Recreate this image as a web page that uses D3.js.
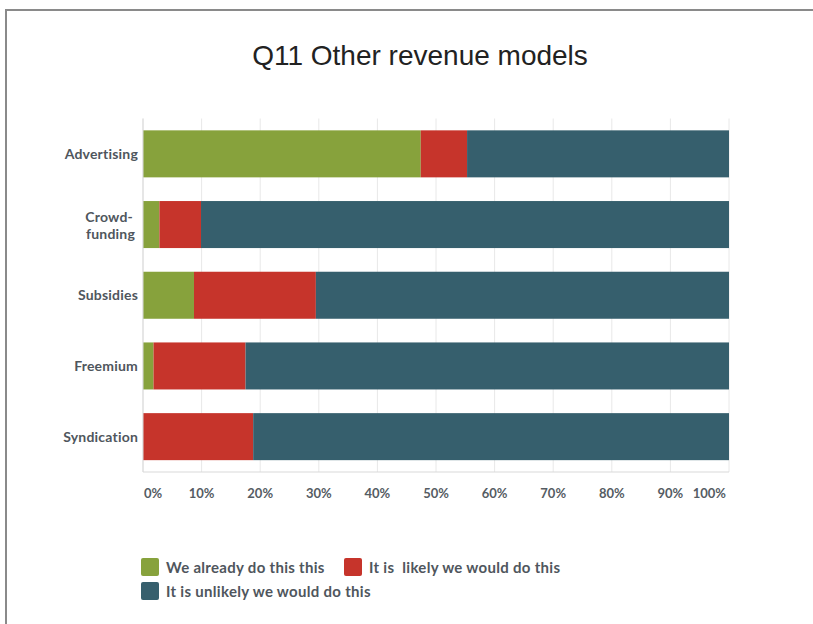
<!DOCTYPE html>
<html>
<head>
<meta charset="utf-8">
<script src="https://d3js.org/d3.v7.min.js"></script>
<style>
  body { margin: 0; background: #fff; }
  svg { display: block; }
  .cat, .tick-lbl, .legend text { font-family: Lato, "Open Sans", sans-serif; font-weight: bold; }
</style>
</head>
<body>
<script>
var categories = ["Advertising", "Crowd-funding", "Subsidies", "Freemium", "Syndication"];
var seriesNames = ["We already do this this", "It is  likely we would do this", "It is unlikely we would do this"];
var already  = [47.4, 2.8, 8.7, 1.8, 0];
var likely   = [7.9, 7.1, 20.8, 15.7, 18.8];
var unlikely = [44.7, 90.1, 70.5, 82.5, 81.2];
var tickValues = [0, 10, 20, 30, 40, 50, 60, 70, 80, 90, 100];
var colors = ["#87a23c", "#c6342b", "#365f6d"];

var W = 813, H = 624;
var margin = {top: 118.5, left: 143, right: 84, bottom: 152};
var width = W - margin.left - margin.right,
    height = H - margin.top - margin.bottom;

var svg = d3.select("body").append("svg")
    .attr("width", W).attr("height", H);

// frame
svg.append("path")
    .attr("d", "M6,624 L6,10 L813,10")
    .attr("fill", "none").attr("stroke", "#8a8a8a").attr("stroke-width", 2);

svg.append("text")
    .attr("x", 420).attr("y", 65)
    .attr("text-anchor", "middle")
    .style("font-family", "'Liberation Sans', Arial, sans-serif")
    .style("font-size", "28px")
    .attr("fill", "#222")
    .text("Q11 Other revenue models");

var g = svg.append("g").attr("transform", "translate(" + margin.left + "," + margin.top + ")");

var x = d3.scaleLinear().domain([0, 100]).range([0, width]);
var y = d3.scaleBand().domain(categories).range([0, height])
    .paddingInner(0.335).paddingOuter(0.1675);

// gridlines
g.selectAll(".grid").data(tickValues).enter().append("line")
    .attr("x1", d => x(d)).attr("x2", d => x(d))
    .attr("y1", 0).attr("y2", height)
    .attr("stroke", "#e8e8e8").attr("stroke-width", 1);

var rows = categories.map(function(c, i) {
  return {cat: c, already: already[i], likely: likely[i], unlikely: unlikely[i]};
});
var stack = d3.stack().keys(["already", "likely", "unlikely"])(rows);

g.selectAll(".series").data(stack).enter().append("g")
    .attr("fill", (d, i) => colors[i])
  .selectAll("rect").data(d => d).enter().append("rect")
    .attr("x", d => x(d[0]))
    .attr("width", d => x(d[1]) - x(d[0]))
    .attr("y", d => y(d.data.cat))
    .attr("height", y.bandwidth());

// axis lines
g.append("line").attr("x1", 0).attr("x2", width).attr("y1", height).attr("y2", height)
    .attr("stroke", "#d9d9d9");
g.append("line").attr("x1", 0).attr("x2", 0).attr("y1", 0).attr("y2", height)
    .attr("stroke", "#d9d9d9");

// x tick labels
g.selectAll(".tick-lbl").data(tickValues).enter().append("text")
    .attr("class", "tick-lbl")
    .attr("x", d => d === 0 ? x(d) + 1 : d === 100 ? x(d) - 3 : x(d))
    .attr("y", height + 26)
    .attr("text-anchor", d => d === 0 ? "start" : d === 100 ? "end" : "middle")
    .style("font-size", "13px")
    .attr("fill", "#555c63")
    .text(d => d + "%");

// category labels
g.selectAll(".cat").data(categories).enter().append("text")
    .attr("class", "cat")
    .attr("text-anchor", "end")
    .attr("fill", "#4f565d")
    .style("font-size", "14px")
    .style("letter-spacing", "0.2px")
    .each(function(d) {
      var t = d3.select(this);
      var cy = y(d) + y.bandwidth() / 2;
      if (d === "Crowd-funding") {
        t.append("tspan").attr("x", -10).attr("y", cy - 3).text("Crowd-");
        t.append("tspan").attr("x", -8).attr("y", cy + 14).text("funding");
      } else {
        t.attr("x", -5).attr("y", cy + 5).text(d);
      }
    });

// legend
var legendPos = [[141, 558], [344, 558], [141, 582]];
var legend = svg.selectAll(".legend").data(seriesNames).enter().append("g")
    .attr("class", "legend")
    .attr("transform", (d, i) => "translate(" + legendPos[i][0] + "," + legendPos[i][1] + ")");
legend.append("rect")
    .attr("width", 18).attr("height", 18).attr("rx", 2)
    .attr("fill", (d, i) => colors[i]);
legend.append("text")
    .attr("x", 25).attr("y", 15)
    .style("font-size", "15px")
    .style("letter-spacing", "0.3px")
    .attr("fill", "#4f565d")
    .style("white-space", "pre")
    .attr("xml:space", "preserve")
    .text(d => d);
</script>
</body>
</html>
